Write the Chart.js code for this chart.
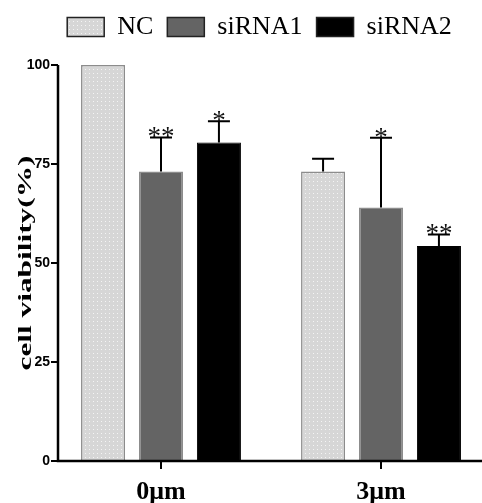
<!DOCTYPE html>
<html>
<head>
<meta charset="utf-8">
<script src="https://cdn.jsdelivr.net/npm/chart.js@4"></script>
<style>
  body { margin: 0; overflow: hidden; background: #fff; }
  #wrap { width: 500px; height: 503px; }
</style>
</head>
<body>
<div id="wrap"><canvas id="viabilityChart" width="500" height="503"></canvas></div>
<script>
const categories = ["0μm", "3μm"];
const seriesNames = ["NC", "siRNA1", "siRNA2"];
const ncValues = [100, 73.1];
const sirna1Values = [73.1, 64.0];
const sirna2Values = [80.4, 54.3];
// upper error (SD) read from the caps
const ncErrors = [0, 3.2];
const sirna1Errors = [8.6, 17.6];
const sirna2Errors = [5.4, 2.9];
const ncStars = ["", ""];
const sirna1Stars = ["**", "*"];
const sirna2Stars = ["*", "**"];
const yTicks = [0, 25, 50, 75, 100];
const yTitle = "cell viability(%)";

function dotPattern(bg, dot) {
  const c = document.createElement("canvas");
  c.width = 4; c.height = 4;
  const g = c.getContext("2d");
  g.fillStyle = bg;
  g.fillRect(0, 0, 4, 4);
  g.fillStyle = dot;
  g.fillRect(1, 1, 1, 1);
  return g.createPattern(c, "repeat");
}
const ncFill = dotPattern("#d6d6d6", "#f4f4f4");

const errorSets = [ncErrors, sirna1Errors, sirna2Errors];
const starSets = [ncStars, sirna1Stars, sirna2Stars];

// axes, error bars, stars and rotated title
const extras = {
  id: "extras",
  beforeInit(chart) {
    const fit = chart.legend.fit;
    chart.legend.fit = function () {
      fit.call(this);
      this.height = 65;
    };
  },
  afterLayout(chart) {
    // legend sits a little right of the plot centre in the original
    chart.legend.left += 14;
    chart.legend.right += 14;
  },
  afterDatasetsDraw(chart) {
    const ctx = chart.ctx;
    const y = chart.scales.y;
    const x = chart.scales.x;
    const axisX = 58;
    const y0 = y.getPixelForValue(0);
    ctx.save();

    // error bars + stars
    ctx.strokeStyle = "#000";
    ctx.lineWidth = 2;
    chart.data.datasets.forEach((ds, di) => {
      const meta = chart.getDatasetMeta(di);
      meta.data.forEach((bar, i) => {
        const err = errorSets[di][i];
        if (!err) return;
        const top = y.getPixelForValue(ds.data[i] + err);
        const base = y.getPixelForValue(ds.data[i]);
        ctx.beginPath();
        ctx.moveTo(bar.x, base);
        ctx.lineTo(bar.x, top);
        ctx.moveTo(bar.x - 11, top);
        ctx.lineTo(bar.x + 11, top);
        ctx.stroke();
        const s = starSets[di][i];
        if (s) {
          ctx.fillStyle = "#111";
          ctx.font = '27px "Liberation Serif"';
          ctx.textAlign = "center";
          ctx.textBaseline = "alphabetic";
          ctx.fillText(s, bar.x, top + 8);
        }
      });
    });

    // axes
    ctx.strokeStyle = "#000";
    ctx.lineWidth = 2.5;
    ctx.beginPath();
    ctx.moveTo(axisX, y.getPixelForValue(100));
    ctx.lineTo(axisX, y0);
    ctx.lineTo(chart.chartArea.right, y0);
    ctx.stroke();
    ctx.lineWidth = 2;
    ctx.beginPath();
    yTicks.forEach(v => {
      const py = y.getPixelForValue(v);
      ctx.moveTo(axisX - 7, py);
      ctx.lineTo(axisX, py);
    });
    categories.forEach((c, i) => {
      const px = x.getPixelForValue(i);
      ctx.moveTo(px, y0);
      ctx.lineTo(px, y0 + 8);
    });
    ctx.stroke();

    // y title, stretched along its length like the original
    ctx.font = 'bold 19px "Liberation Serif"';
    const w = ctx.measureText(yTitle).width;
    ctx.translate(26, 263);
    ctx.rotate(-Math.PI / 2);
    ctx.scale(215 / w, 1);
    ctx.fillStyle = "#000";
    ctx.textAlign = "center";
    ctx.textBaseline = "middle";
    ctx.fillText(yTitle, 0, 0);
    ctx.restore();
  }
};

new Chart(document.getElementById("viabilityChart").getContext("2d"), {
  type: "bar",
  data: {
    labels: categories,
    datasets: [
      { label: seriesNames[0], data: ncValues, backgroundColor: ncFill, borderColor: "#8c8c8c", borderWidth: 1.5 },
      { label: seriesNames[1], data: sirna1Values, backgroundColor: "#646464", borderColor: "#8c8c8c", borderWidth: 1.5 },
      { label: seriesNames[2], data: sirna2Values, backgroundColor: "#000", borderColor: "#000", borderWidth: 1 }
    ]
  },
  options: {
    responsive: false,
    animation: false,
    categoryPercentage: 0.79,
    barPercentage: 0.76,
    layout: { padding: { left: 0, right: 9, top: 0, bottom: 0 } },
    plugins: {
      tooltip: { enabled: false },
      legend: {
        position: "top",
        labels: {
          boxWidth: 37,
          boxHeight: 19,
          padding: 14,
          color: "#000",
          font: { family: '"Liberation Serif"', size: 26 },
          generateLabels(chart) {
            return Chart.defaults.plugins.legend.labels.generateLabels(chart).map(l => {
              l.strokeStyle = "#222";
              l.lineWidth = 1.5;
              return l;
            });
          }
        }
      }
    },
    scales: {
      x: {
        grid: { display: false, drawTicks: false },
        border: { display: false },
        afterFit(scale) { scale.height = 42; },
        ticks: {
          padding: 16,
          color: "#000",
          font: { family: '"Liberation Serif"', size: 26, weight: "bold" }
        }
      },
      y: {
        min: 0,
        max: 100,
        grid: { display: false, drawTicks: false },
        border: { display: false },
        afterFit(scale) { scale.width = 51; },
        afterBuildTicks(scale) { scale.ticks = yTicks.map(v => ({ value: v })); },
        ticks: {
          padding: 1,
          color: "#000",
          font: { family: '"Liberation Sans"', size: 14, weight: "bold" }
        }
      }
    }
  },
  plugins: [extras]
});
</script>
</body>
</html>
